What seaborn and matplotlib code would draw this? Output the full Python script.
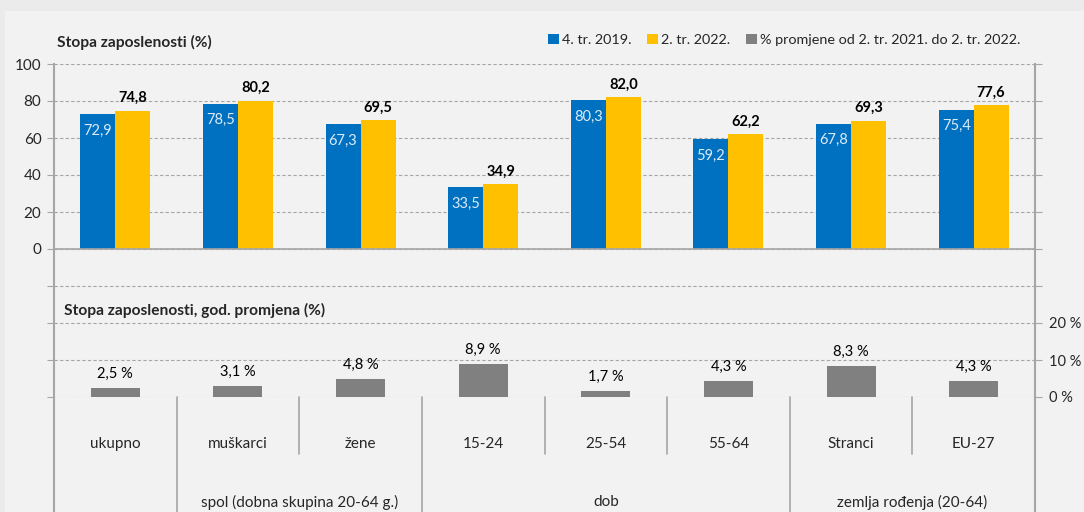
import matplotlib
matplotlib.use("Agg")
import matplotlib.pyplot as plt
import matplotlib.transforms as mtransforms
from matplotlib.patches import Patch, Rectangle
from matplotlib.ticker import FuncFormatter, MultipleLocator
import seaborn as sns
import pandas as pd

# --- data ---
categories = ['ukupno', 'muškarci', 'žene', '15-24', '25-54', '55-64', 'Stranci', 'EU-27']
group_labels = ['', 'spol (dobna skupina 20-64 g.)', 'dob', 'zemlja rođenja (20-64)']
group_sizes = [1, 2, 3, 2]
q4_2019 = [72.9, 78.5, 67.3, 33.5, 80.3, 59.2, 67.8, 75.4]
q2_2022 = [74.8, 80.2, 69.5, 34.9, 82.0, 62.2, 69.3, 77.6]
change_pct = [2.5, 3.1, 4.8, 8.9, 1.7, 4.3, 8.3, 4.3]
series_names = ['4. tr. 2019.', '2. tr. 2022.', '% promjene od 2. tr. 2021. do 2. tr. 2022.']

BLUE, YELLOW, GREY = '#0070c0', '#ffc000', '#808080'
PANEL, OUTER = '#f2f2f2', '#ebebeb'
LINE = '#a6a6a6'

df = pd.DataFrame({
    'kategorija': categories * 2,
    'vrijednost': q4_2019 + q2_2022,
    'serija': [series_names[0]] * len(categories) + [series_names[1]] * len(categories),
})
df_change = pd.DataFrame({'kategorija': categories, 'promjena': change_pct})

# --- style ---
sns.set_style("white")
plt.rcParams['font.family'] = ['Lato', 'DejaVu Sans']
plt.rcParams['font.size'] = 10

fig = plt.figure(figsize=(10.84, 5.12), dpi=100, facecolor=OUTER)
fig.patches.append(Rectangle((5 / 1084, 0), 1, 1 - 11 / 512, transform=fig.transFigure,
                             facecolor=PANEL, edgecolor='none', zorder=-10))

left, right = 54 / 1084, 1035 / 1084
bottom, top = 1 - 397 / 512, 1 - 64 / 512
ax = fig.add_axes([left, bottom, right - left, top - bottom])
ax.set_facecolor('none')

sns.barplot(data=df, x='kategorija', y='vrijednost', hue='serija', order=categories,
            palette=[BLUE, YELLOW], width=0.57, saturation=1, errorbar=None,
            legend=False, linewidth=0, ax=ax)

ax2 = ax.twinx()
sns.barplot(data=df_change, x='kategorija', y='promjena', order=categories,
            color=GREY, width=0.4, saturation=1, errorbar=None, linewidth=0, ax=ax2)

# --- data labels ---
fmt = lambda v: f'{v:.1f}'.replace('.', ',')
ax.bar_label(ax.containers[0], labels=[fmt(v) for v in q4_2019], padding=-17,
             color='#ddebf7', fontsize=10.5)
ax.bar_label(ax.containers[1], labels=[fmt(v) for v in q2_2022], padding=4,
             color='black', fontsize=10.5, fontweight='bold')
ax2.bar_label(ax2.containers[0], labels=[fmt(v) + ' %' for v in change_pct], padding=5,
              color='black', fontsize=10.5)

# --- axes ---
n = len(categories)
ax.set_xlim(-0.5, n - 0.5)
ax.set_ylim(-80, 100)
ax2.set_ylim(0, 90)

ax.yaxis.set_major_locator(MultipleLocator(20))
ax.yaxis.set_major_formatter(FuncFormatter(lambda v, p: f'{v:.0f}' if v >= 0 else ''))
ax.grid(axis='y', color=LINE, linestyle=(0, (3, 2)), linewidth=0.8)
ax.grid(axis='x', visible=False)
ax.set_axisbelow(True)
ax.tick_params(axis='y', length=5, color=LINE, labelsize=11, pad=4)
ax.set_xlabel('')
ax.set_ylabel('')

ax.set_xticks([i + 0.5 for i in range(n - 1)])
ax.set_xticklabels([])
ax.tick_params(axis='x', length=5, color=LINE, direction='out')
ax.spines['bottom'].set_position(('data', 0))
ax.spines['bottom'].set_color(LINE)
ax.spines['bottom'].set_linewidth(1.2)
ax.spines['left'].set_color(LINE)
ax.spines['left'].set_linestyle((0, (2, 1)))
ax.spines['left'].set_linewidth(1.5)
ax.spines['top'].set_visible(False)
ax.spines['right'].set_visible(False)

ax2.yaxis.set_major_locator(MultipleLocator(10))
ax2.yaxis.set_major_formatter(FuncFormatter(lambda v, p: f'{v:.0f} %' if v <= 20 else ''))
ax2.tick_params(axis='y', length=5, color=LINE, labelsize=10.5, pad=5)
ax2.set_ylabel('')
for s in ['top', 'left', 'bottom']:
    ax2.spines[s].set_visible(False)
ax2.spines['right'].set_color(LINE)
ax2.spines['right'].set_linewidth(1.5)
ax2.grid(False)

# --- category labels below the plot ---
trans = mtransforms.blended_transform_factory(ax.transData, ax.transAxes)
ax_h = 333
row1, row2 = -47 / ax_h, -105 / ax_h
short_end, long_end = -57 / ax_h, -116 / ax_h
for i, c in enumerate(categories):
    ax.text(i, row1, c, transform=trans, ha='center', va='center', fontsize=11)

boundaries_long = [-0.5]
start = 0
for g, size in zip(group_labels, group_sizes):
    if g:
        ax.text(start + (size - 1) / 2, row2, g, transform=trans, ha='center',
                va='center', fontsize=11)
    start += size
    boundaries_long.append(start - 0.5)
for b in range(1, n):
    xb = b - 0.5
    end = long_end if xb in boundaries_long else short_end
    ax.plot([xb, xb], [0, end], transform=trans, color=LINE, linewidth=1.2, clip_on=False)
ax.plot([-0.5, -0.5], [0, long_end], transform=trans, color=LINE, linewidth=1.5, clip_on=False)
ax.plot([n - 0.5, n - 0.5], [0, long_end], transform=trans, color=LINE, linewidth=1.5, clip_on=False)

# --- titles and legend ---
fig.text(57 / 1084, 1 - 42 / 512, 'Stopa zaposlenosti (%)', fontweight='bold',
         fontsize=11.2, va='center', ha='left')
fig.text(64 / 1084, 1 - 310 / 512, 'Stopa zaposlenosti, god. promjena (%)',
         fontweight='bold', fontsize=11.2, va='center', ha='left')

handles = [Patch(facecolor=c, edgecolor='none') for c in (BLUE, YELLOW, GREY)]
fig.legend(handles, series_names, loc='center right', bbox_to_anchor=(1020 / 1084, 1 - 40 / 512),
           ncol=3, frameon=False, fontsize=10.4, handlelength=0.75, handleheight=0.75,
           handletextpad=0.2, columnspacing=1.1, borderaxespad=0, borderpad=0)

fig.savefig('out.png', dpi=100, facecolor=fig.get_facecolor())
